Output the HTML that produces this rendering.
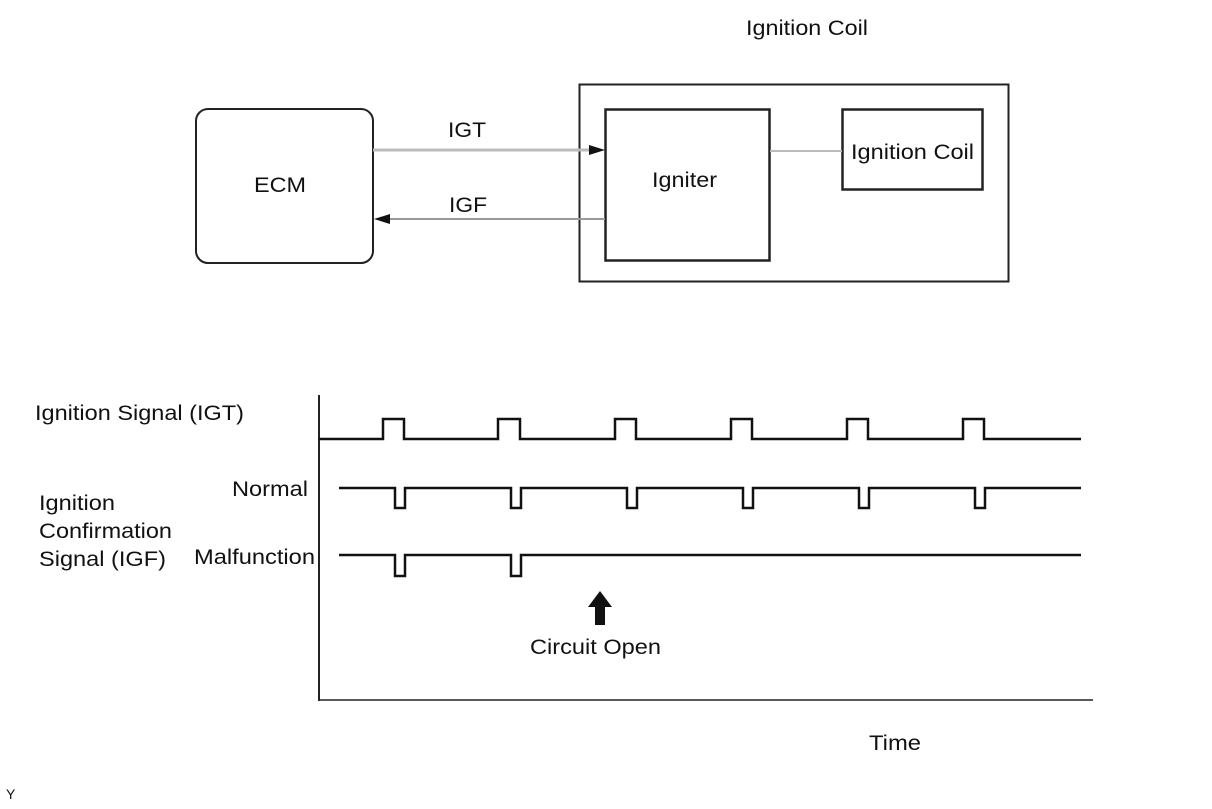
<!DOCTYPE html>
<html><head><style>
body{margin:0;background:#fff;width:1212px;height:804px;overflow:hidden}
text{font-family:"Liberation Sans",Arial,sans-serif;font-size:21px;fill:#111}
</style></head><body>
<svg width="1212" height="804" xmlns="http://www.w3.org/2000/svg">
<text x="746" y="35" textLength="122" lengthAdjust="spacingAndGlyphs">Ignition Coil</text>
<rect x="196" y="109" width="177" height="154" rx="12" fill="none" stroke="#222" stroke-width="2"/>
<text x="254" y="192" textLength="52" lengthAdjust="spacingAndGlyphs">ECM</text>
<rect x="579.5" y="84.5" width="429" height="197" fill="none" stroke="#222" stroke-width="2"/>
<rect x="605.5" y="109.5" width="164" height="151" fill="none" stroke="#222" stroke-width="2.5"/>
<text x="652" y="187" textLength="65" lengthAdjust="spacingAndGlyphs">Igniter</text>
<rect x="842.5" y="109.5" width="140" height="80" fill="none" stroke="#222" stroke-width="2.5"/>
<text x="851" y="159" textLength="123" lengthAdjust="spacingAndGlyphs">Ignition Coil</text>
<line x1="373" y1="150" x2="592" y2="150" stroke="#bbb" stroke-width="3"/>
<polygon points="605,150 589,145 589,155" fill="#111"/>
<text x="448" y="137" textLength="38" lengthAdjust="spacingAndGlyphs">IGT</text>
<line x1="386" y1="219" x2="605" y2="219" stroke="#999" stroke-width="2"/>
<polygon points="374,219 390,214 390,224" fill="#111"/>
<text x="449" y="212" textLength="38" lengthAdjust="spacingAndGlyphs">IGF</text>
<line x1="770" y1="151" x2="842" y2="151" stroke="#bbb" stroke-width="2"/>

<line x1="319" y1="395" x2="319" y2="701" stroke="#222" stroke-width="2"/>
<line x1="318" y1="700" x2="1093" y2="700" stroke="#222" stroke-width="1.5"/>
<g fill="none" stroke="#111" stroke-width="2.5">
<polyline points="319,439 383,439 383,419 404,419 404,439 498,439 498,419 520,419 520,439 615,439 615,419 636,419 636,439 731,439 731,419 752,419 752,439 847,439 847,419 868,419 868,439 963,439 963,419 984,419 984,439 1081,439" />
<polyline points="339,488 395,488 395,508 405,508 405,488 511,488 511,508 521,508 521,488 627,488 627,508 637,508 637,488 743,488 743,508 753,508 753,488 859,488 859,508 869,508 869,488 975,488 975,508 985,508 985,488 1081,488"/>
<polyline points="339,555 395,555 395,576 405,576 405,555 511,555 511,576 521,576 521,555 1081,555"/>
</g>
<polygon points="600,591 588,607 595,607 595,625 605,625 605,607 612,607" fill="#111"/>
<text x="35" y="420" textLength="209" lengthAdjust="spacingAndGlyphs">Ignition Signal (IGT)</text>
<text x="232" y="496" textLength="76" lengthAdjust="spacingAndGlyphs">Normal</text>
<text x="194" y="564" textLength="121" lengthAdjust="spacingAndGlyphs">Malfunction</text>
<text x="39" y="510" textLength="76" lengthAdjust="spacingAndGlyphs">Ignition</text>
<text x="39" y="538" textLength="133" lengthAdjust="spacingAndGlyphs">Confirmation</text>
<text x="39" y="566" textLength="127" lengthAdjust="spacingAndGlyphs">Signal (IGF)</text>
<text x="530" y="654" textLength="131" lengthAdjust="spacingAndGlyphs">Circuit Open</text>
<text x="869" y="750" textLength="52" lengthAdjust="spacingAndGlyphs">Time</text>
<text x="6" y="799" style="font-size:14px">Y</text>
</svg>
</body></html>
